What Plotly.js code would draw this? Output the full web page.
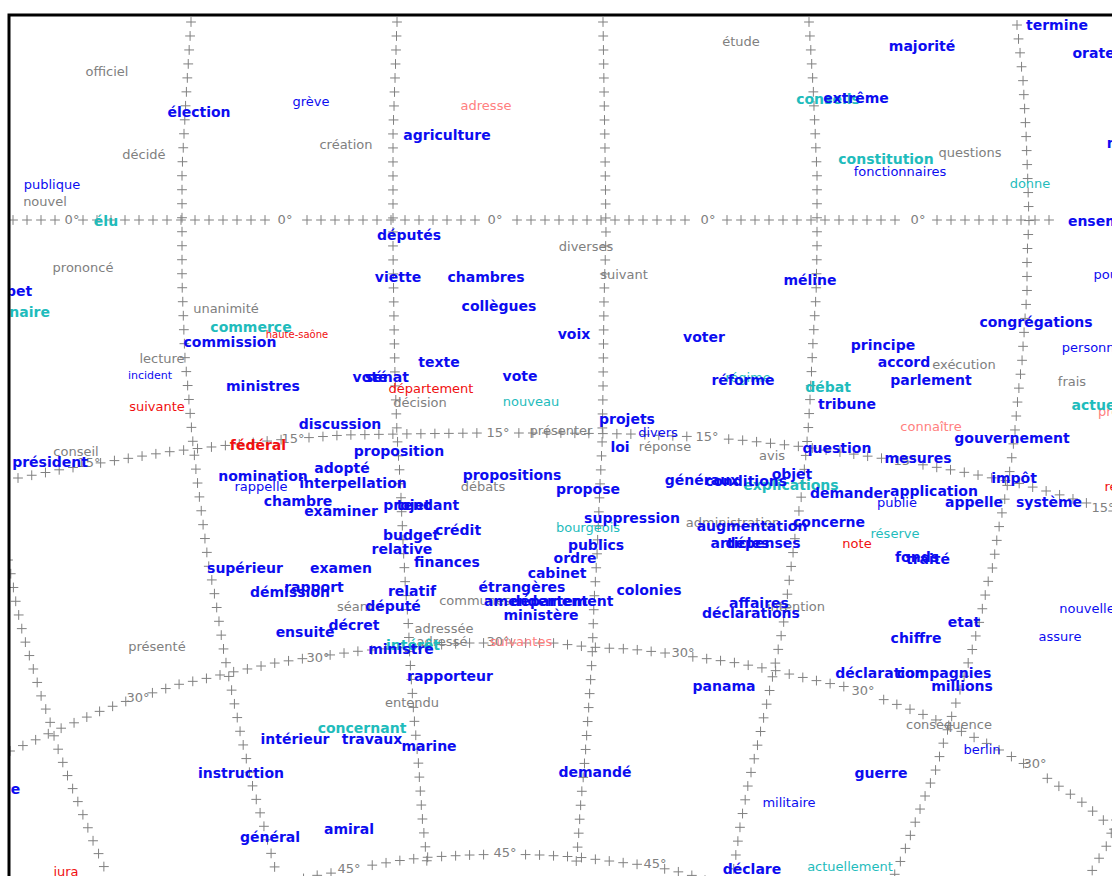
<!DOCTYPE html>
<html><head><meta charset="utf-8">
<script src="https://cdn.plot.ly/plotly-3.0.1.min.js"></script>
<style>html,body{margin:0;padding:0;overflow:hidden;background:#fff}#chart{width:1300px;height:1000px}</style>
</head><body><div id="chart"></div>
<script>
// ---- word map data (position of each word on the factorial plane) ----
const words = ["officiel","élection","grève","adresse","étude","majorité","termine","orateur","décidé","création","agriculture","conseils","extrême","constitution","questions","fonctionnaires","donne","nation","publique","nouvel","élu","ensemble","députés","diverses","prononcé","suivant","viette","chambres","méline","pouvoir","loubet","ordinaire","unanimité","commerce","haute-saône","commission","collègues","congrégations","voix","voter","principe","personnel","lecture","texte","accord","exécution","incident","voté","sénat","vote","réforme","régime","parlement","frais","ministres","département","débat","suivante","décision","nouveau","tribune","actuelle","projet","discussion","projets","connaître","conseil","fédéral","présenter","divers","gouvernement","président","proposition","loi","réponse","question","avis","mesures","adopté","nomination","propositions","objet","impôt","généraux","conditions","explications","rappelle","interpellation","débats","propose","demander","application","publie","appelle","système","révision","chambre","examiner","projet","tendant","suppression","administration","augmentation","concerne","bourgeois","crédit","budget","réserve","articles","dépenses","note","publics","relative","fonds","traité","ordre","finances","supérieur","examen","cabinet","rapport","démission","relatif","étrangères","colonies","affaires","intention","déclarations","nouvelle","communes","amendement","département","ministère","séance","député","décret","ensuite","adressée","chiffre","etat","assure","présenté","adressé","intérêt","ministre","suivantes","déclaration","compagnies","millions","rapporteur","panama","entendu","conséquence","concernant","intérieur","travaux","marine","berlin","instruction","demandé","guerre","justice","militaire","amiral","général","jura","déclare","actuellement"];
const wordX = [107,199,311,486,741,922,1057,1102,144,346,447,828,856,886,970,900,1030,1132,52,45,106,1106,409,586,83,624,398,486,810,1118,7,14,226,251,297,230,499,1036,574,704,883,1094,162,439,904,964,150,370,387,520,743,748,931,1072,263,431,828,157,420,531,847,1103,1117,340,627,931,76,258,561,658,1012,50,399,620,665,837,772,918,342,263,512,792,1014,702,746,791,261,353,483,588,850,934,897,974,1049,1130,298,341,407,428,632,733,752,829,588,458,411,895,740,763,857,596,402,917,928,575,447,245,341,557,314,290,412,522,649,759,796,751,1087,475,536,562,541,360,393,354,305,444,916,964,1060,157,442,413,401,521,880,944,962,450,724,412,949,362,295,372,429,982,241,595,881,-6,789,349,270,66,752,850];
const wordY = [72,112,102,106,42,46,25,53,155,145,135,99,98,159,153,172,184,143,185,202,221,221,235,247,268,275,277,277,280,275,291,312,309,327,334,342,306,322,334,337,345,348,359,362,362,365,375,377,377,376,380,378,380,382,386,389,387,407,403,402,404,405,412,424,419,427,452,445,431,433,438,462,451,447,447,448,456,458,468,476,475,474,478,480,481,485,487,483,487,489,493,491,503,502,502,487,501,511,505,505,518,523,526,522,528,530,535,534,543,543,544,545,549,557,559,558,562,568,568,573,587,592,591,587,590,603,607,613,609,601,601,601,615,607,606,625,632,629,638,622,637,647,642,645,649,642,673,673,686,676,686,703,725,728,739,739,746,750,773,772,773,789,803,829,837,872,869,867];
const wordStyle = ["G","B","b","p","G","B","B","B","G","G","B","C","B","C","G","b","c","B","b","G","C","B","B","G","G","G","B","B","B","b","B","C","G","C","t","B","B","B","B","B","B","b","G","B","B","G","S","B","B","B","B","c","B","G","B","r","C","r","G","c","B","C","p","B","B","p","G","R","G","b","B","B","B","B","G","B","G","B","B","B","B","B","B","B","B","C","b","B","G","B","B","B","b","B","B","r","B","B","B","B","B","G","B","B","c","B","B","c","B","B","r","B","B","B","B","B","B","B","B","B","B","B","B","B","B","B","G","B","b","G","B","B","B","G","B","B","B","G","B","B","b","G","G","C","B","p","B","B","B","B","B","G","G","C","B","B","B","b","B","B","B","B","b","B","B","r","B","c"];

// ---- graticule (curved parallels and meridians of the projection) ----
const gratLines = [
 {x:[13,1060], y:[220,220]},
 {x:[18,58,112,167,220,277,343,400,480,560,630,700,740,805,860,913,968,1022,1060,1103,1120], y:[478,470,461,452,446,440,435,434,433,433,434,437,440,447,455,463,473,484,495,508,513]},
 {x:[10,29,52,76,98,121,155,180,204,228,252,275,300,337,360,420,467,517,553,580,603,630,665,702,737,773,809,846,882,915,950,984,1018,1050,1083,1115], y:[751,743,732,722,712,703,692,684,679,673,668,663,659,654,651,646,643,643,643,646,648,649,653,658,663,670,679,687,699,711,726,742,760,780,803,830]},
 {x:[290,313,338,373,403,430,470,505,540,577,617,652,688,710], y:[882,876,872,865,860,857,855,854,855,857,862,866,874,882]},
 {x:[191,186,182,182,185,188,192,197,201,205,209,213,225,240,253,265,277], y:[22,98,170,282,359,389,434,479,509,539,568,585,658,731,788,830,876]},
 {x:[397,393,393,394,395,397,400,403,405,408,410,414,418,422,428], y:[22,135,250,320,377,434,477,540,580,618,660,717,758,815,872]},
 {x:[603,605,606,604,603,602,600,597,594,592,588,585,581,578,575], y:[22,150,235,300,390,447,485,555,603,660,717,758,800,843,874]},
 {x:[809,813,817,817,816,813,810,808,805,802,797,793,789,783,777,768,758,748,740,733], y:[22,84,174,250,296,342,400,432,463,492,523,553,582,627,655,698,743,785,827,874]},
 {x:[1017,1023,1026,1028,1029,1027,1027,1022,1018,1015,1011,1005,998,993,988,981,973,963,954,944,935,923,912,901,894], y:[25,80,133,187,220,257,292,361,396,430,464,498,532,566,582,615,647,680,709,741,772,801,831,860,876]},
 {x:[8,13,16,23,33,42,48,57,68,80,91,103,107], y:[560,585,603,634,668,699,715,746,777,807,836,864,876]},
 {x:[1116,1107,1098,1088], y:[820,845,860,878]}
];
const gratLabelText = ["0°","0°","0°","0°","0°","15°","15°","15°","15°","15°","15°","30°","30°","30°","30°","30°","30°","45°","45°","45°"];
const gratLabelX = [72,285,495,708,918,89,293,498,707,905,1103,138,318,498,683,863,1035,349,505,655];
const gratLabelY = [220,220,220,220,220,463,439,433,437,461,508,698,658,642,653,691,764,869,853,864];

// ---- build graticule crosses along each path ----
const STEP = 14;
function sampleLine(xs, ys) {
  const px = [], py = [];
  let need = 0;
  for (let i = 0; i < xs.length - 1; i++) {
    const dx = xs[i+1]-xs[i], dy = ys[i+1]-ys[i];
    const L = Math.hypot(dx, dy);
    let d = need;
    while (d <= L) {
      px.push(xs[i] + dx*d/L); py.push(ys[i] + dy*d/L);
      d += STEP;
    }
    need = d - L;
  }
  return [px, py];
}
const crossX = [], crossY = [];
gratLines.forEach(l => {
  const [px, py] = sampleLine(l.x, l.y);
  for (let k = 0; k < px.length; k++) {
    let skip = false;
    for (let j = 0; j < gratLabelX.length; j++) {
      if (Math.hypot(px[k]-gratLabelX[j], py[k]-gratLabelY[j]) < 10) { skip = true; break; }
    }
    if (!skip) { crossX.push(px[k]); crossY.push(py[k]); }
  }
});

const styles = {
  B: {color:'#0c0cf0', size:14, weight:'bold'},
  b: {color:'#0c0cf0', size:13, weight:'normal'},
  S: {color:'#0c0cf0', size:11, weight:'normal'},
  C: {color:'#1fbcbc', size:14, weight:'bold'},
  c: {color:'#1fbcbc', size:13, weight:'normal'},
  G: {color:'#808080', size:13, weight:'normal'},
  R: {color:'#f01010', size:14, weight:'bold'},
  r: {color:'#f01010', size:13, weight:'normal'},
  t: {color:'#f01010', size:10, weight:'normal'},
  p: {color:'#ff8080', size:13, weight:'normal'}
};
const TEXT_NUDGE = 1; // baseline correction of the text renderer, in pixels

const traces = [];
traces.push({type:'scatter', mode:'markers', x:crossX, y:crossY, hoverinfo:'skip',
  marker:{symbol:'cross-thin', size:7, color:'#808080', line:{color:'#808080', width:1}}});
traces.push({type:'scatter', mode:'text', x:gratLabelX, y:gratLabelY.map(v => v + TEXT_NUDGE), text:gratLabelText,
  textposition:'middle center', hoverinfo:'skip',
  textfont:{family:'DejaVu Sans', size:13, color:'#808080'}});

const order = ['G','p','t','r','c','S','b','C','B','R'];
order.forEach(s => {
  const xs = [], ys = [], ts = [];
  words.forEach((w, i) => { if (wordStyle[i] === s) { xs.push(wordX[i]); ys.push(wordY[i] + TEXT_NUDGE); ts.push(w); } });
  traces.push({type:'scatter', mode:'text', x:xs, y:ys, text:ts, textposition:'middle center',
    hoverinfo:'skip', cliponaxis:true,
    textfont:{family:'DejaVu Sans', size:styles[s].size, color:styles[s].color, weight:styles[s].weight}});
});

const layout = {
  width:1300, height:1000,
  margin:{l:9, t:15, r:0, b:0},
  paper_bgcolor:'#ffffff', plot_bgcolor:'#ffffff',
  showlegend:false,
  xaxis:{range:[9,1300], visible:false, fixedrange:true},
  yaxis:{range:[1000,15], visible:false, fixedrange:true},
  shapes:[{type:'rect', xref:'paper', yref:'paper', x0:0, x1:1, y0:0, y1:1, line:{color:'#000', width:3}}]
};
Plotly.newPlot('chart', traces, layout, {displayModeBar:false, staticPlot:true});
</script>
</body></html>
